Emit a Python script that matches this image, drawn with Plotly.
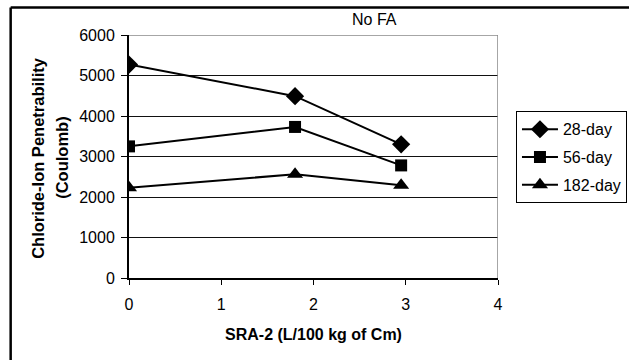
import plotly.graph_objects as go

sra = [0, 1.8, 2.95]
day28 = [5270, 4490, 3300]
day56 = [3250, 3730, 2780]
day182 = [2230, 2560, 2290]
series_names = ["28-day", "56-day", "182-day"]
symbols = ["diamond", "square", "triangle-up"]

W, H = 629, 360
L, R = 128.5, 498.0
T, B = 34.5, 278.0

def px(x):
    return (x - L) / (R - L)

def py(y):
    return (B - y) / (B - T)

fig = go.Figure()
for i, (name, vals, sym) in enumerate(zip(series_names, [day28, day56, day182], symbols)):
    fig.add_trace(go.Scatter(
        x=sra, y=vals, name=name, mode="lines+markers",
        line=dict(color="black", width=2),
        marker=dict(symbol=sym, size=14 if sym != "square" else 12, color="black"),
        legendgroup=name,
    ))

font = "Liberation Sans, Arial, sans-serif"
fig.update_layout(
    width=W, height=H,
    margin=dict(l=L, r=W - R, t=T, b=H - B, autoexpand=False),
    paper_bgcolor="white", plot_bgcolor="white",
    font=dict(family=font, size=16, color="black"),
    showlegend=True,
    legend=dict(
        x=px(516), y=py(111), xanchor="left", yanchor="top",
        bordercolor="black", borderwidth=1, bgcolor="white",
        font=dict(size=16), tracegroupgap=4, itemwidth=36,
    ),
    xaxis=dict(
        range=[0, 4], tickvals=[0, 1, 2, 3, 4], showgrid=False, zeroline=False,
        showline=True, linecolor="black", linewidth=2,
        ticks="outside", ticklen=5, tickwidth=1, tickcolor="black",
        ticklabelstandoff=6,
        title=dict(text="<b>SRA-2 (L/100 kg of Cm)</b>", font=dict(size=16), standoff=17),
    ),
    yaxis=dict(
        range=[0, 6000], tickvals=[0, 1000, 2000, 3000, 4000, 5000, 6000],
        showgrid=True, gridcolor="#111", gridwidth=1, zeroline=False,
        showline=True, linecolor="black", linewidth=2,
        ticks="outside", ticklen=6, tickwidth=1, tickcolor="black",
        ticklabelstandoff=3,
    ),
    annotations=[
        dict(text="No FA", xref="paper", yref="paper", x=px(374), y=py(19),
             showarrow=False, font=dict(size=16), xanchor="center", yanchor="middle"),
        dict(text="<b>Chloride-Ion Penetrability</b>", xref="paper", yref="paper",
             x=px(38), y=py(158), textangle=-90, showarrow=False,
             font=dict(size=16.5), xanchor="center", yanchor="middle"),
        dict(text="<b>(Coulomb)</b>", xref="paper", yref="paper",
             x=px(62), y=py(158), textangle=-90, showarrow=False,
             font=dict(size=16.5), xanchor="center", yanchor="middle"),
    ],
    shapes=[
        dict(type="line", xref="x", yref="y", x0=0, x1=4, y0=6000, y1=6000,
             line=dict(color="#888", width=1.5)),
        dict(type="line", xref="x", yref="y", x0=4, x1=4, y0=0, y1=6000,
             line=dict(color="#888", width=1.5)),
        dict(type="line", xref="paper", yref="paper", x0=px(10), x1=px(10),
             y0=py(7), y1=py(362), line=dict(color="black", width=2.5)),
        dict(type="line", xref="paper", yref="paper", x0=px(10), x1=px(632),
             y0=py(7), y1=py(7), line=dict(color="black", width=2.5)),
    ],
)

fig.write_html("out.html")
